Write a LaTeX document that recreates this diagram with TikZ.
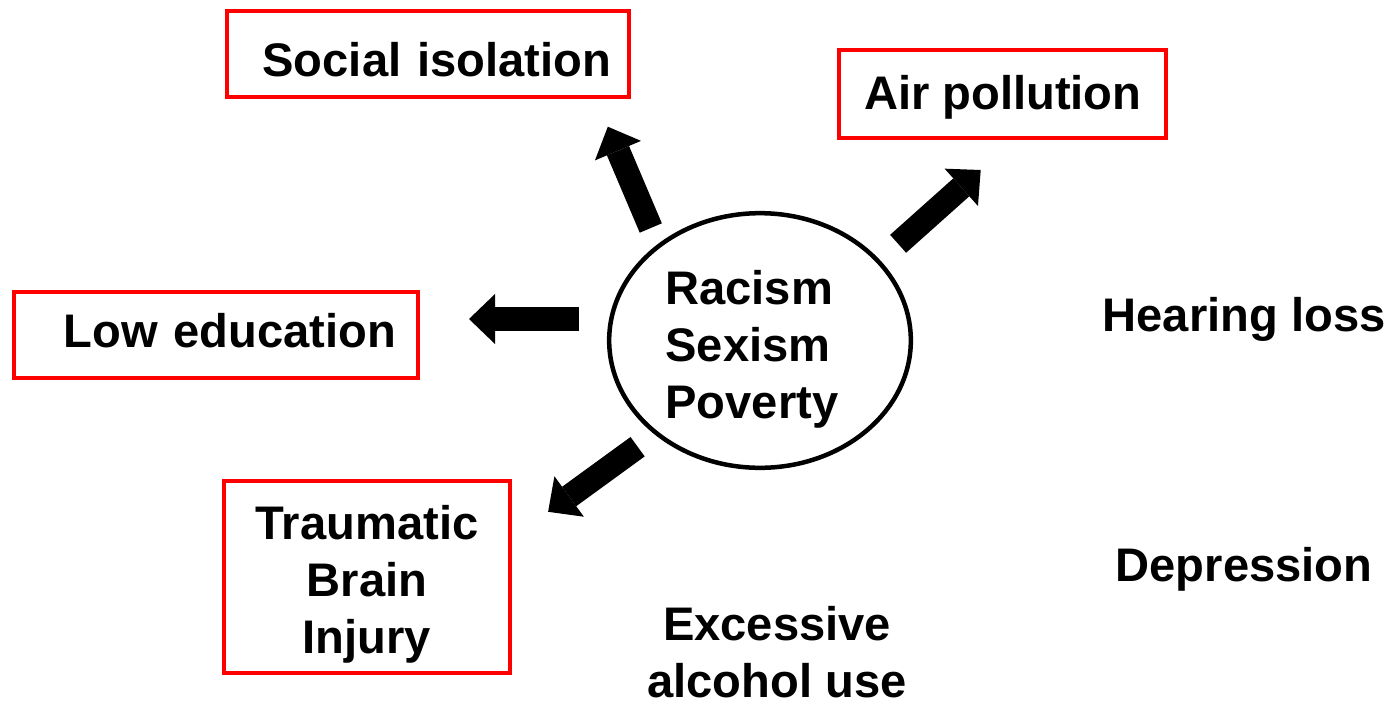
\documentclass[tikz,border=0pt]{standalone}
\usepackage{fontspec}
\setmainfont{Liberation Sans}
\usetikzlibrary{shapes.geometric,arrows.meta}
\tikzset{
  riskbox/.style={draw=red, line width=0.04cm, inner ysep=0pt, text height=0.4cm, text depth=0.1cm},
  plain/.style={inner sep=0pt, anchor=base west},
  fatarrow/.style={line width=0.24cm, -{Triangle[width=0.5cm,length=0.26cm,line width=0pt]}},
}
\begin{document}
\begin{tikzpicture}[x=0.01cm,y=-0.01cm,font=\fontsize{13.4}{16.2}\selectfont\bfseries]
\useasboundingbox (0,0) rectangle (1391,700);
\node [draw, line width=0.045cm, ellipse, minimum width=3.015cm, minimum height=2.545cm, inner sep=0pt, text width=1.89cm, align=left, text height=0.51cm] (root) at (760,340.5) {Racism\\Sexism\\Poverty};
\node [riskbox, minimum width=4.02cm, minimum height=0.86cm, text width=3.66cm, inner xsep=0.18cm, align=right, text height=0.47cm, text depth=0.02cm] (soc) at (427.7,54.3) {Social isolation};
\node [riskbox, minimum width=3.27cm, minimum height=0.877cm, inner xsep=0pt] (air) at (1002.8,94.2) {Air pollution};
\node [riskbox, minimum width=4.03cm, minimum height=0.86cm, text width=3.6cm, inner xsep=0.215cm, align=right, text height=0.35cm] (edu) at (216,335) {Low education};
\node [draw=red, line width=0.04cm, minimum width=2.86cm, minimum height=1.92cm, inner sep=0pt, text width=2.6cm, align=center, text height=0.48cm] (tbi) at (367,577) {Traumatic\\Brain\\Injury};
\node [plain] (hear) at (1102,331) {Hearing loss};
\node [plain] (dep) at (1115,581) {Depression};
\node [inner sep=0pt, align=center] (alc) at (777,652) {Excessive\\alcohol use};
\coordinate (socT) at (650.8,228);
\coordinate (socH) at (607.8,126.7);
\coordinate (airT) at (898.1,243.8);
\coordinate (airH) at (980.7,170);
\coordinate (eduT) at (579,319);
\coordinate (eduH) at (469,319);
\coordinate (tbiT) at (637.6,446.7);
\coordinate (tbiH) at (548.1,511.8);
\draw [fatarrow] (socT) -- (socH);
\draw [fatarrow] (airT) -- (airH);
\draw [fatarrow] (eduT) -- (eduH);
\draw [fatarrow] (tbiT) -- (tbiH);
\end{tikzpicture}
\end{document}
